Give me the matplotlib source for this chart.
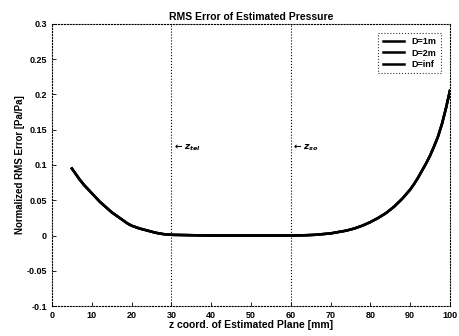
import matplotlib
matplotlib.use('Agg')
import matplotlib.pyplot as plt
import numpy as np

plt.rcParams['font.family'] = ['Liberation Sans', 'DejaVu Sans']
plt.rcParams['font.weight'] = 'bold'

# curve (all three cases overlap)
z = [5, 6, 7, 8, 9, 10, 11, 12, 13, 14, 15, 16, 17, 18, 19, 20, 22, 24, 26, 28, 30,
     40, 50, 60, 64, 66, 68, 70, 72, 74, 76, 78, 80, 82, 84, 86, 88, 90,
     91, 92, 93, 94, 95, 96, 97, 98, 99, 100]
err = [0.095, 0.087, 0.079, 0.072, 0.066, 0.06, 0.054, 0.048, 0.043, 0.038, 0.033,
       0.029, 0.025, 0.021, 0.017, 0.014, 0.010, 0.007, 0.004, 0.002, 0.001,
       0.0, 0.0, 0.0, 0.0005, 0.001, 0.002, 0.003, 0.005, 0.007, 0.010, 0.014,
       0.019, 0.025, 0.032, 0.041, 0.052, 0.065,
       0.073, 0.082, 0.092, 0.102, 0.113, 0.126, 0.140, 0.158, 0.180, 0.205]
labels = ['D=1m', 'D=2m', 'D=inf']
zmarks = [30, 60]
znames = [r'$\leftarrow z_{tel}$', r'$\leftarrow z_{so}$']

fig = plt.figure(figsize=(4.6, 3.36), dpi=100)
ax = fig.add_axes([0.113, 0.089, 0.865, 0.84])

for lab in labels:
    ax.plot(z, err, color='black', lw=1.8, label=lab)

for zm, nm in zip(zmarks, znames):
    ax.axvline(zm, color='black', ls=':', lw=0.8)
    ax.text(zm + 0.3, 0.125, nm, fontsize=6.5, va='center')

ax.set_xlim(0, 100)
ax.set_ylim(-0.1, 0.3)
ax.set_xticks(range(0, 101, 10))
ax.set_yticks([-0.1, -0.05, 0, 0.05, 0.1, 0.15, 0.2, 0.25, 0.3])
ax.set_yticklabels(['-0.1', '-0.05', '0', '0.05', '0.1', '0.15', '0.2', '0.25', '0.3'])
ax.tick_params(direction='in', labelsize=6.5, length=3, width=0.6)
for s in ax.spines.values():
    s.set_linestyle(':')
    s.set_linewidth(0.8)

ax.set_title('RMS Error of Estimated Pressure', fontsize=7.5, fontweight='bold', pad=3)
ax.set_xlabel('z coord. of Estimated Plane [mm]', fontsize=7.5, fontweight='bold', labelpad=0)
ax.set_ylabel('Normalized RMS Error [Pa/Pa]', fontsize=7, fontweight='bold', labelpad=1)

leg = ax.legend(loc='upper right', fontsize=6.5, frameon=True, fancybox=False,
                edgecolor='black', handlelength=2.4, borderpad=0.5, labelspacing=0.25,
                borderaxespad=1.0)
leg.get_frame().set_linestyle(':')
leg.get_frame().set_linewidth(0.8)

fig.savefig('out.png', dpi=100)
